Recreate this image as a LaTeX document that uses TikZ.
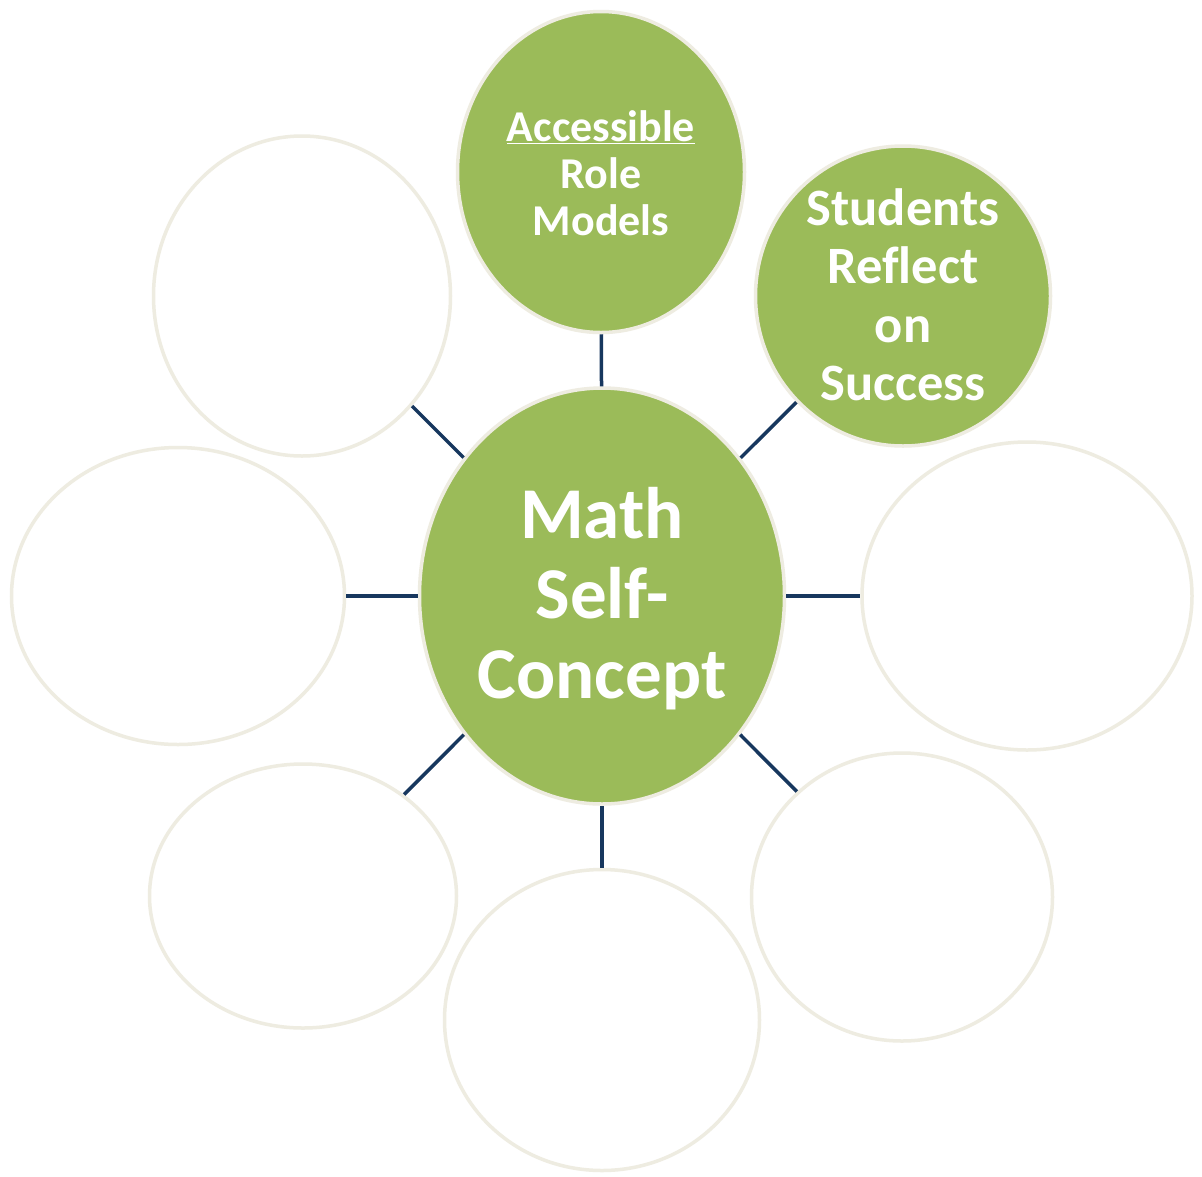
\documentclass[tikz,border=0pt]{standalone}
\usepackage{fontspec}
\setmainfont{Carlito}[Ligatures=NoCommon]
\usetikzlibrary{shapes.geometric}
\definecolor{leaf}{HTML}{9BBB59}
\definecolor{rim}{HTML}{EEECE1}
\definecolor{navy}{HTML}{17375E}
\tikzset{
  bubble/.style={ellipse, draw=rim, line width=3.5pt, fill=white, inner sep=0pt},
  greenbubble/.style={bubble, fill=leaf},
  link/.style={draw=navy, line width=3.5pt},
  words/.style={text=white, align=center, font=\bfseries, inner sep=0pt}
}
\begin{document}
\begin{tikzpicture}[x=1pt,y=-1pt]
\useasboundingbox (0,0) rectangle (1202,1176);
\fill[white] (0,0) rectangle (1202,1176);
% nodes
\node[greenbubble, minimum width=365pt, minimum height=416pt] (c) at (602,596) {};
\node[greenbubble, minimum width=287pt, minimum height=321pt] (t) at (601,172) {};
\node[greenbubble, minimum width=295pt, minimum height=300pt] (tr) at (903,296) {};
\node[bubble, minimum width=297pt, minimum height=320pt] (tl) at (302,296) {};
\node[bubble, minimum width=333pt, minimum height=297pt] (l) at (178,596) {};
\node[bubble, minimum width=330pt, minimum height=308pt] (r) at (1027,596) {};
\node[bubble, minimum width=307pt, minimum height=264pt] (bl) at (303,896) {};
\node[bubble, minimum width=301pt, minimum height=288pt] (br) at (902,897) {};
\node[bubble, minimum width=315pt, minimum height=301pt] (b) at (602,1020) {};
% texts
\node[words, font=\bfseries\fontsize{73}{80}\selectfont] (ctext) at (602,599) {Math\\Self-\\Concept};
\node[words, font=\bfseries\fontsize{44}{47}\selectfont] (ttext) at (601,173) {\underline{Accessible}\\Role\\Models};
\node[words, font=\bfseries\fontsize{52.5}{58.5}\selectfont] (trtext) at (903,295) {Students\\Reflect\\on\\Success};
% connectors
\foreach \n in {t,tr,tl,l,r,bl,br,b} { \draw[link] (c) -- (\n); }
\end{tikzpicture}
\end{document}
